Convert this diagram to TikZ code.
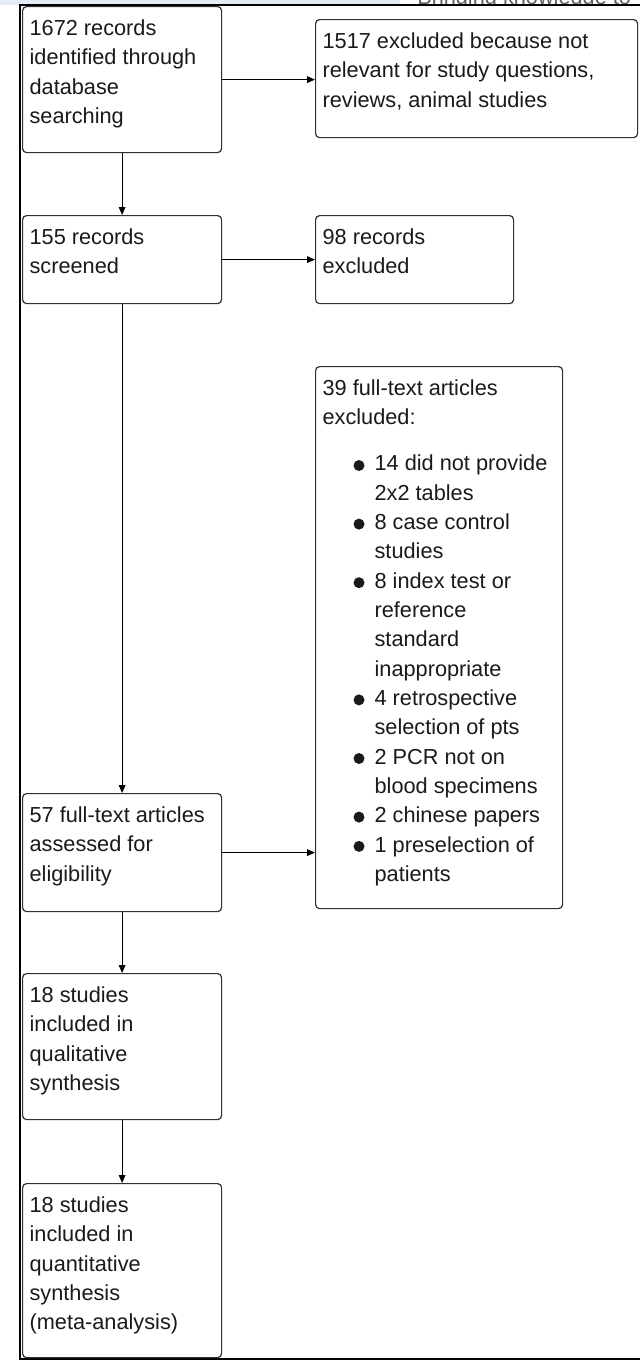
\documentclass[tikz,border=0pt]{standalone}
\usepackage{fontspec}
\setmainfont{Liberation Sans}
\usetikzlibrary{arrows.meta}
\newdimen\px \px=0.75pt
\newcommand\bt[3]{\parbox[c][#2\px][t]{#1\px}{\raggedright\leftskip=7\px\rule{0pt}{29\px}#3}}
\definecolor{txt}{HTML}{1A1A1A}
\definecolor{edge}{HTML}{303030}
\definecolor{band}{HTML}{E4EAF6}
\definecolor{hdrgray}{HTML}{606060}
\begin{document}
\begin{tikzpicture}[x=0.75pt,y=-0.75pt,
  box/.style={draw=edge,line width=0.9pt,rounded corners=3pt,inner sep=0pt,anchor=north west,
    text=txt,font=\fontsize{16.3pt}{22pt}\selectfont},
  conn/.style={draw=black,line width=0.85pt,-{Triangle[length=6pt,width=5pt]}},
  dot/.style={fill=txt},
  frame/.style={draw=black}]
\useasboundingbox (0,0) rectangle (640,1361);
\fill[white] (0,0) rectangle (640,1361);
% header strip
\fill[band] (0,0) rectangle (400,4.5);
\begin{scope}
  \clip (400,0) rectangle (640,4.6);
  \node[anchor=base west,inner sep=0pt,text=hdrgray,font=\fontsize{16.3pt}{18pt}\selectfont] (hdr) at (417,4) {Bringing knowledge to};
\end{scope}
% frame
\draw[frame,line width=1.5pt] (19,5) -- (640,5);
\draw[frame,line width=2.2pt] (20,4) -- (20,1360);
\draw[frame,line width=1.5pt] (19,1359) -- (640,1359);
% boxes
\node[box] (b1) at (22,6) {\bt{199}{146}{1672 records\\identified through\\database\\searching}};
\node[box] (b2) at (315,19) {\bt{322}{118}{1517 excluded because not\\relevant for study questions,\\reviews, animal studies}};
\node[box] (b3) at (22,215) {\bt{199}{88}{155 records\\screened}};
\node[box] (b4) at (315,215) {\bt{198}{88}{98 records\\excluded}};
\node[box] (b5) at (315,366) {\bt{247}{542}{39 full-text articles\\excluded:\par\vspace{16.7\px}\leftskip=59\px
  14 did not provide\\2x2 tables\\8 case control\\studies\\8 index test or\\reference\\standard\\inappropriate\\4 retrospective\\selection of pts\\2 PCR not on\\blood specimens\\2 chinese papers\\1 preselection of\\patients}};
\node[box] (b6) at (22,793) {\bt{199}{118}{57 full-text articles\\assessed for\\eligibility}};
\node[box] (b7) at (22,973) {\bt{199}{146}{18 studies\\included in\\qualitative\\synthesis}};
\node[box] (b8) at (22,1183) {\bt{199}{174}{18 studies\\included in\\quantitative\\synthesis\\(meta-analysis)}};
% bullets
\foreach \dy in {99.5,158.1,216.7,333.9,392.5,451.1,480.4}
  \fill[dot] (b5.north west) ++(44,\dy) circle[radius=5.5];
% connectors
\draw[conn] (b1.east) -- (b1.east -| b2.west);
\draw[conn] (b1.south) -- (b3.north);
\draw[conn] (b3.east) -- (b3.east -| b4.west);
\draw[conn] (b3.south) -- (b6.north);
\draw[conn] (b6.east) -- (b6.east -| b5.west);
\draw[conn] (b6.south) -- (b7.north);
\draw[conn] (b7.south) -- (b8.north);
\end{tikzpicture}
\end{document}
